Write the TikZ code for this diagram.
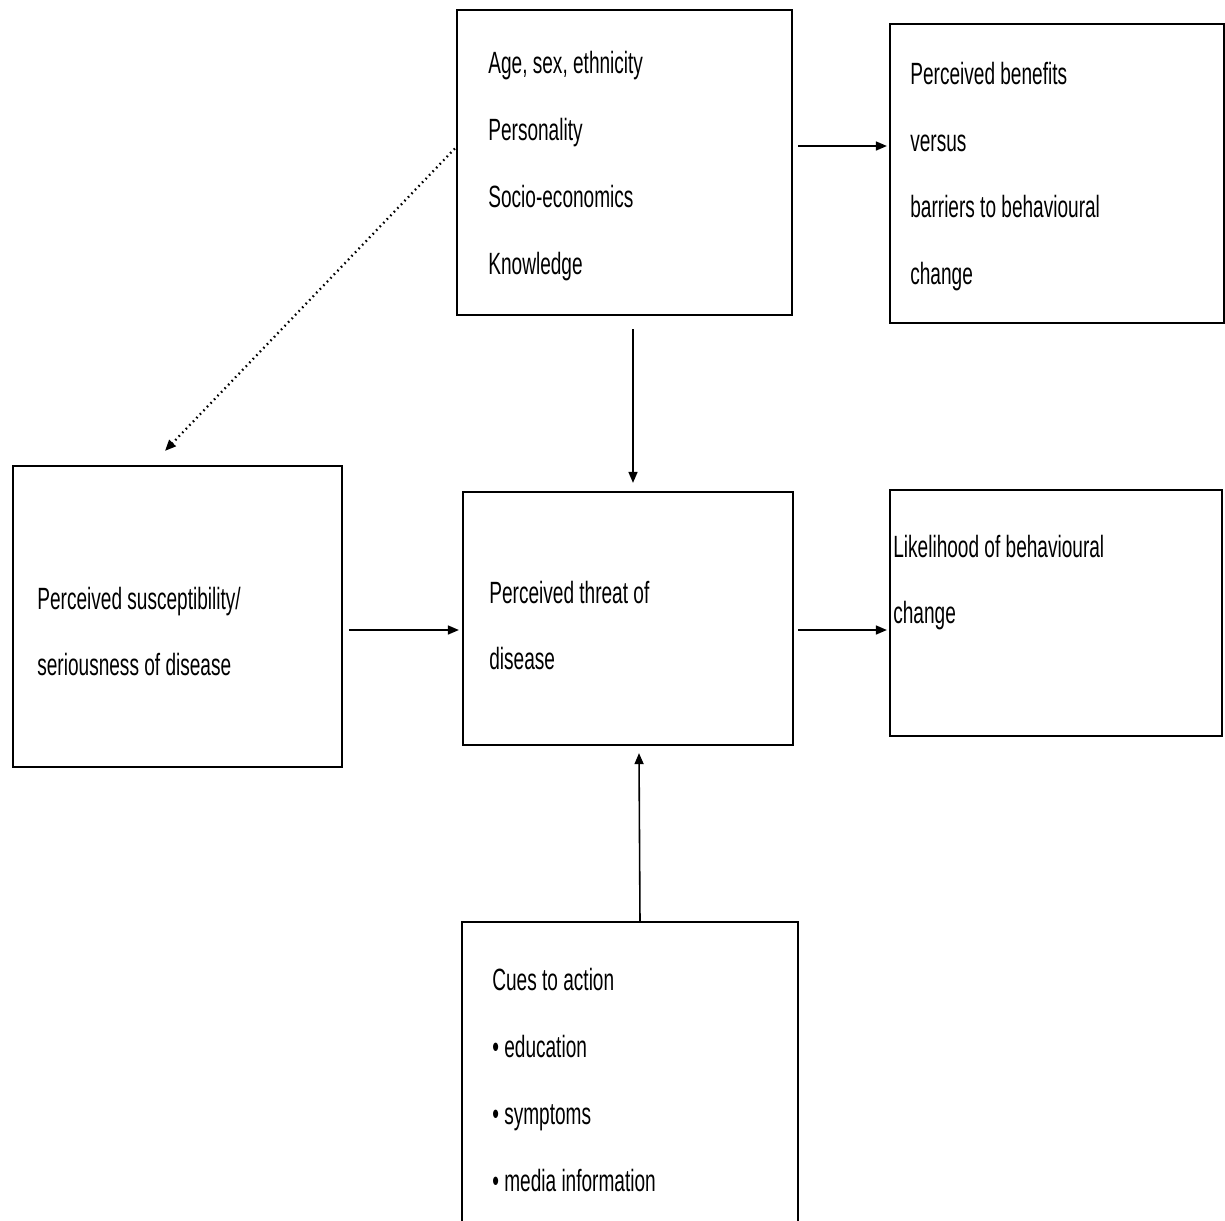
\documentclass[tikz,border=0pt]{standalone}
\usepackage{fontspec}
\setmainfont{Liberation Sans}[FakeStretch=0.62]
\usetikzlibrary{arrows.meta, calc}

\begin{document}
\begin{tikzpicture}[x=0.02cm, y=-0.02cm,
  box/.style={draw, line width=1.3pt, inner sep=0pt},
  lbl/.style={anchor=west, align=left, inner sep=0pt,
              font=\fontsize{17.5}{38}\selectfont},
  arr/.style={-{Triangle[length=2.2mm, width=1.8mm]}, line width=0.9pt}]

\useasboundingbox (0,0) rectangle (1225,1221);

% Boxes
\node[box, minimum width=6.70cm, minimum height=6.10cm] (top)  at (624.5,162.5) {};
\node[box, minimum width=6.68cm, minimum height=5.98cm] (ben)  at (1057,173.5) {};
\node[box, minimum width=6.58cm, minimum height=6.02cm] (sus)  at (177.5,616.5) {};
\node[box, minimum width=6.60cm, minimum height=5.06cm] (thr)  at (628,618.5) {};
\node[box, minimum width=6.64cm, minimum height=4.92cm] (lik)  at (1056,613) {};
\node[box, minimum width=6.72cm, minimum height=6.10cm] (cues) at (630,1074.5) {};

% Texts
\node[lbl] (toptxt) at (488,166)
  {Age, sex, ethnicity\\Personality\\Socio-economics\\Knowledge};
\node[lbl] (bentxt) at (910,176.5)
  {Perceived benefits\\versus\\barriers to behavioural\\change};
\node[lbl] (sustxt) at (37,631.5)
  {Perceived susceptibility/\\seriousness of disease};
\node[lbl] (thrtxt) at (489,625.5)
  {Perceived threat of\\disease};
\node[lbl] (liktxt) at (893,582.5)
  {Likelihood of behavioural\\change};
\node[lbl] (cuestxt) at (492,1080)
  {Cues to action\\• education\\• symptoms\\• media information};

% Arrows
\draw[arr] ($(top.east)+(5,-16.5)$) -- ($(ben.west)+(-2,-27.5)$);
\draw[arr] ($(top.south)+(8.5,13)$) -- ($(thr.north)+(5,-8)$);
\draw[arr, dotted, line width=1.3pt] ($(top.west)+(-1,-14)$) -- ($(sus.north)+(-12.5,-14)$);
\draw[arr] ($(sus.east)+(6,13.5)$) -- ($(thr.west)+(-3,11.5)$);
\draw[arr] ($(thr.east)+(4,11.5)$) -- ($(lik.west)+(-2,17)$);
\draw[arr] ($(cues.north)+(10,0)$) -- ($(thr.south)+(11,7)$);
\end{tikzpicture}
\end{document}
